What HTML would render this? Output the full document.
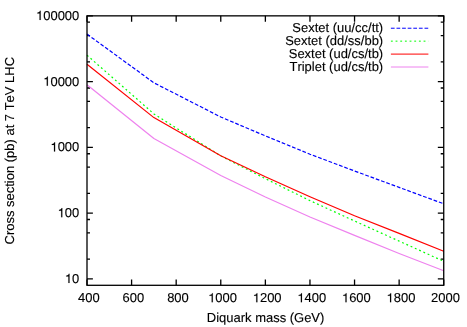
<!DOCTYPE html>
<html><head><meta charset="utf-8"><title>plot</title>
<style>html,body{margin:0;padding:0;background:#fff}svg{display:block;will-change:transform}text{font-family:"Liberation Sans",sans-serif;font-size:12.97px;fill:#000;stroke:#000;stroke-width:0.12px;text-rendering:geometricPrecision;font-kerning:none}</style></head><body>
<svg width="467" height="327" viewBox="0 0 467 327">
<rect width="467" height="327" fill="#fff"/>
<path d="M87.00 278.89h5.90 M443.73 278.89h-5.90 M87.00 213.13h5.90 M443.73 213.13h-5.90 M87.00 147.37h5.90 M443.73 147.37h-5.90 M87.00 81.61h5.90 M443.73 81.61h-5.90 M87.00 15.85h5.90 M443.73 15.85h-5.90 M87.00 259.09h3.00 M443.73 259.09h-3.00 M87.00 232.93h3.00 M443.73 232.93h-3.00 M87.00 219.50h3.00 M443.73 219.50h-3.00 M87.00 193.33h3.00 M443.73 193.33h-3.00 M87.00 167.17h3.00 M443.73 167.17h-3.00 M87.00 153.74h3.00 M443.73 153.74h-3.00 M87.00 127.57h3.00 M443.73 127.57h-3.00 M87.00 101.41h3.00 M443.73 101.41h-3.00 M87.00 87.98h3.00 M443.73 87.98h-3.00 M87.00 61.81h3.00 M443.73 61.81h-3.00 M87.00 35.65h3.00 M443.73 35.65h-3.00 M87.00 22.22h3.00 M443.73 22.22h-3.00 M87.00 285.30v-5.90 M87.00 15.85v5.90 M131.59 285.30v-5.90 M131.59 15.85v5.90 M176.18 285.30v-5.90 M176.18 15.85v5.90 M220.77 285.30v-5.90 M220.77 15.85v5.90 M265.37 285.30v-5.90 M265.37 15.85v5.90 M309.96 285.30v-5.90 M309.96 15.85v5.90 M354.55 285.30v-5.90 M354.55 15.85v5.90 M399.14 285.30v-5.90 M399.14 15.85v5.90 M443.73 285.30v-5.90 M443.73 15.85v5.90" stroke="#000" stroke-width="1.3" fill="none"/>
<path d="M87.00 34.10 L153.89 82.80 L220.77 117.00 L265.37 135.90 L309.96 154.20 L354.55 171.00 L399.14 187.40 L443.73 203.80" stroke="#0000ff" stroke-dasharray="3.73 1.87" stroke-width="1.2" fill="none" stroke-linejoin="round"/>
<path d="M87.00 55.20 L153.89 113.90 L220.77 155.90 L265.37 178.70 L309.96 200.60 L354.55 221.00 L399.14 241.10 L443.73 261.30" stroke="#00ff00" stroke-dasharray="1.87 2.8" stroke-width="1.2" fill="none" stroke-linejoin="round"/>
<path d="M87.00 64.20 L153.89 117.60 L220.77 155.70 L265.37 176.80 L309.96 196.70 L354.55 215.70 L399.14 233.40 L443.73 251.20" stroke="#ff0000" stroke-width="1.2" fill="none" stroke-linejoin="round"/>
<path d="M87.00 84.80 L153.89 138.50 L220.77 175.50 L265.37 197.00 L309.96 217.00 L354.55 235.40 L399.14 253.50 L443.73 270.80" stroke="#ee82ee" stroke-width="1.2" fill="none" stroke-linejoin="round"/>
<rect x="87.00" y="15.85" width="356.73" height="269.45" fill="none" stroke="#000" stroke-width="1.3"/>
<defs><path id="one" stroke="#000" stroke-width="9" d="M359 0L359 703L301 703C282 625 240 575 101 564L101 501L271 501L271 0Z" transform="scale(0.01297 -0.01297)"/></defs>
<use href="#one" x="64.87" y="282.99"/>
<text x="79.30" y="282.99" text-anchor="end">0</text>
<use href="#one" x="57.66" y="217.23"/>
<text x="79.30" y="217.23" text-anchor="end">00</text>
<use href="#one" x="50.45" y="151.47"/>
<text x="79.30" y="151.47" text-anchor="end">000</text>
<use href="#one" x="43.23" y="85.71"/>
<text x="79.30" y="85.71" text-anchor="end">0000</text>
<use href="#one" x="36.02" y="19.95"/>
<text x="79.30" y="19.95" text-anchor="end">00000</text>
<text x="99.62" y="302.25" text-anchor="end">400</text>
<text x="144.21" y="302.25" text-anchor="end">600</text>
<text x="188.80" y="302.25" text-anchor="end">800</text>
<use href="#one" x="208.15" y="302.25"/>
<text x="237.00" y="302.25" text-anchor="end">000</text>
<use href="#one" x="252.74" y="302.25"/>
<text x="281.59" y="302.25" text-anchor="end">200</text>
<use href="#one" x="297.33" y="302.25"/>
<text x="326.18" y="302.25" text-anchor="end">400</text>
<use href="#one" x="341.92" y="302.25"/>
<text x="370.77" y="302.25" text-anchor="end">600</text>
<use href="#one" x="386.51" y="302.25"/>
<text x="415.37" y="302.25" text-anchor="end">800</text>
<text x="459.96" y="302.25" text-anchor="end">2000</text>
<text x="265.6" y="321.5" text-anchor="middle">Diquark mass (GeV)</text>
<text transform="translate(14.45 150.7) rotate(-90)" text-anchor="middle">Cross section (pb) at 7 TeV LHC</text>
<text x="383.2" y="32.10" text-anchor="end">Sextet (uu/cc/tt)</text>
<path d="M390.9 28.23H428.4" stroke="#0000ff" stroke-dasharray="3.73 1.87" stroke-width="1.0" fill="none"/>
<text x="383.2" y="45.03" text-anchor="end">Sextet (dd/ss/bb)</text>
<path d="M390.9 41.15H428.4" stroke="#00ff00" stroke-dasharray="1.87 2.8" stroke-width="1.0" fill="none"/>
<text x="383.2" y="57.96" text-anchor="end">Sextet (ud/cs/tb)</text>
<path d="M390.9 54.10H428.4" stroke="#ff0000" stroke-width="1.0" fill="none"/>
<text x="383.2" y="70.89" text-anchor="end">Triplet (ud/cs/tb)</text>
<path d="M390.9 67.00H428.4" stroke="#ee82ee" stroke-width="1.0" fill="none"/>
</svg></body></html>
